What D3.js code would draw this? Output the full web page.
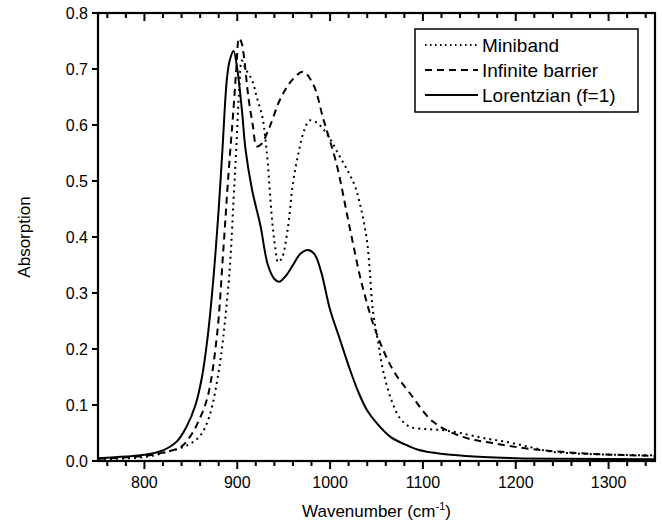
<!DOCTYPE html>
<html>
<head>
<meta charset="utf-8">
<script src="https://cdn.jsdelivr.net/npm/d3@7"></script>
<style>
  html, body { margin: 0; padding: 0; background: #fff; }
  svg text { font-family: "Liberation Sans", Arial, sans-serif; fill: #000; }
</style>
</head>
<body>
<div id="chart"></div>
<script>
const width = 662;
const height = 529;

// wavenumber (cm-1) / absorption pairs
const miniband = [
  [750, 0.003], [800, 0.007], [824, 0.016], [846, 0.028], [860, 0.045], [870, 0.08],
  [880, 0.16], [885, 0.222], [892, 0.346], [896, 0.466], [899, 0.56], [902, 0.66],
  [905, 0.715], [909, 0.70], [916, 0.68], [921, 0.65], [927, 0.615], [930, 0.58],
  [933, 0.53], [937, 0.44], [941, 0.38], [944, 0.355], [948, 0.362], [954, 0.41],
  [960, 0.496], [966, 0.55], [972, 0.59], [978, 0.608], [985, 0.605], [992, 0.594],
  [1000, 0.575], [1010, 0.545], [1020, 0.515], [1027, 0.49], [1032, 0.46], [1036, 0.43],
  [1040, 0.39], [1043, 0.335], [1046, 0.27], [1052, 0.21], [1057, 0.162], [1066, 0.109],
  [1075, 0.077], [1086, 0.061], [1104, 0.057], [1122, 0.055], [1140, 0.05], [1165, 0.041],
  [1190, 0.034], [1215, 0.025], [1237, 0.017], [1270, 0.013], [1310, 0.011], [1350, 0.01]
];

const infiniteBarrier = [
  [750, 0.004], [800, 0.009], [820, 0.015], [839, 0.025], [849, 0.043], [858, 0.07],
  [868, 0.114], [878, 0.222], [885, 0.377], [890, 0.5], [896, 0.63], [899, 0.70],
  [902, 0.755], [905, 0.745], [907, 0.725], [912, 0.65], [917, 0.597], [921, 0.562],
  [926, 0.566], [935, 0.597], [946, 0.645], [959, 0.68], [971, 0.695], [982, 0.672],
  [993, 0.609], [1007, 0.53], [1021, 0.418], [1035, 0.311], [1050, 0.228], [1068, 0.162],
  [1086, 0.121], [1111, 0.07], [1143, 0.043], [1175, 0.032], [1218, 0.021], [1280, 0.013],
  [1350, 0.009]
];

const lorentzian = [
  [750, 0.005], [780, 0.008], [800, 0.011], [820, 0.019], [835, 0.035], [845, 0.06],
  [855, 0.1], [862, 0.15], [868, 0.22], [874, 0.32], [880, 0.45], [884, 0.555],
  [889, 0.685], [892, 0.716], [896, 0.732], [900, 0.70], [905, 0.627], [909, 0.555],
  [916, 0.484], [925, 0.42], [933, 0.35], [940, 0.325], [945, 0.32], [952, 0.33],
  [960, 0.35], [968, 0.37], [976, 0.377], [983, 0.37], [990, 0.34], [1000, 0.27],
  [1010, 0.22], [1020, 0.17], [1030, 0.125], [1040, 0.09], [1050, 0.068], [1065, 0.043],
  [1080, 0.03], [1095, 0.02], [1110, 0.015], [1130, 0.011], [1165, 0.007], [1200, 0.005],
  [1250, 0.004], [1350, 0.003]
];

const seriesNames = ["Miniband", "Infinite barrier", "Lorentzian (f=1)"];
const seriesDash = ["2,4", "7,5", null];
const xTicks = [800, 900, 1000, 1100, 1200, 1300];
const yTicks = [0, 0.1, 0.2, 0.3, 0.4, 0.5, 0.6, 0.7, 0.8];

const margin = { left: 98, right: 7, top: 13, bottom: 68 };

const svg = d3.select("#chart")
  .append("svg")
  .attr("width", width)
  .attr("height", height);

const x = d3.scaleLinear().domain([750, 1350]).range([margin.left, width - margin.right]);
const y = d3.scaleLinear().domain([0, 0.8]).range([height - margin.bottom, margin.top]);

const line = d3.line()
  .x(d => x(d[0]))
  .y(d => y(d[1]))
  .curve(d3.curveCatmullRom.alpha(0.5));

const plot = svg.append("g");
[miniband, infiniteBarrier, lorentzian].forEach((data, i) => {
  plot.append("path")
    .datum(data)
    .attr("fill", "none")
    .attr("stroke", "#000")
    .attr("stroke-width", 2)
    .attr("stroke-dasharray", seriesDash[i])
    .attr("d", line);
});

const minorX = d3.range(760, 1351, 20).filter(v => v % 100 !== 0);
const x0 = x(750), x1 = x(1350), y0 = y(0), y1 = y(0.8);

// tick marks: bottom outward, top inward, left outward
const ticks = svg.append("g");
function tickLines(values, len, ax) {
  values.forEach(d => {
    ticks.append("line")
      .attr("x1", ax === "y" ? x0 : x(d))
      .attr("x2", ax === "y" ? x0 - len : x(d))
      .attr("y1", ax === "y" ? y(d) : (ax === "b" ? y0 : y1))
      .attr("y2", ax === "y" ? y(d) : (ax === "b" ? y0 + len : y1 + len))
      .style("stroke", "#000")
      .style("stroke-width", "2px");
  });
}
tickLines(xTicks, 8, "b");
tickLines(minorX, 5, "b");
tickLines(xTicks, 8, "t");
tickLines(minorX, 5, "t");
tickLines(yTicks, 6, "y");

// frame
svg.append("rect")
  .attr("x", x0).attr("y", y1)
  .attr("width", x1 - x0).attr("height", y0 - y1)
  .attr("fill", "none").attr("stroke", "#000").attr("stroke-width", 2.2);

svg.append("g")
  .selectAll("text")
  .data(xTicks)
  .join("text")
  .attr("x", d => x(d))
  .attr("y", y0 + 27)
  .attr("text-anchor", "middle")
  .style("font-size", "16px")
  .text(d3.format("d"));

svg.append("g")
  .selectAll("text")
  .data(yTicks)
  .join("text")
  .attr("x", x0 - 10)
  .attr("y", d => y(d))
  .attr("dy", "0.35em")
  .attr("text-anchor", "end")
  .style("font-size", "16px")
  .text(d3.format(".1f"));

svg.append("text")
  .attr("transform", `translate(30,${(y0 + y1) / 2}) rotate(-90)`)
  .attr("text-anchor", "middle")
  .style("font-size", "17px")
  .text("Absorption");

const xTitle = svg.append("text")
  .attr("x", (x0 + x1) / 2)
  .attr("y", 517)
  .attr("text-anchor", "middle")
  .style("font-size", "17px");
xTitle.append("tspan").text("Wavenumber (cm");
xTitle.append("tspan").attr("dy", -7).style("font-size", "11px").text("-1");
xTitle.append("tspan").attr("dy", 7).text(")");

// legend
const legend = svg.append("g").attr("transform", "translate(415,29)");
legend.append("rect")
  .attr("width", 223).attr("height", 83)
  .attr("fill", "#fff").attr("stroke", "#000").attr("stroke-width", 1.5);
seriesNames.forEach((name, i) => {
  const row = legend.append("g").attr("transform", `translate(0,${16 + i * 25})`);
  row.append("line")
    .attr("x1", 10).attr("x2", 63)
    .attr("stroke", "#000").attr("stroke-width", 2)
    .attr("stroke-dasharray", i === 0 ? "1.5,3.5" : seriesDash[i]);
  row.append("text")
    .attr("x", 67).attr("dy", "0.35em")
    .style("font-size", "19px")
    .text(name);
});
</script>
</body>
</html>
